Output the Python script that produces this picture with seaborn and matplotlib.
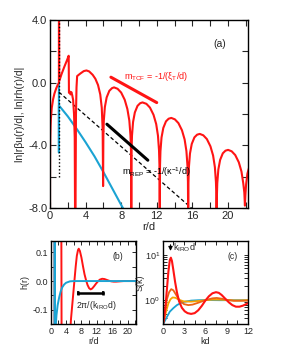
import matplotlib
matplotlib.use("Agg")
import matplotlib.pyplot as plt
import seaborn as sns
from matplotlib.ticker import MultipleLocator, FormatStrFormatter, LogLocator, NullFormatter

# ---- panel (a): ln|r h(r)/d| (strong coupling, red) ----
core_r = [0.0003, 0.001, 0.003, 0.01, 0.03, 0.06, 0.1, 0.2, 0.35, 0.5, 0.7, 0.85, 1.0]
core_y = [-8.1, -6.9, -5.8, -4.6, -3.5, -2.8, -2.3, -1.6, -1.05, -0.69, -0.36, -0.16, 0.0]
contact_r = [1.0, 1.02, 1.04, 1.3, 1.6, 1.9, 2.1, 2.13, 2.2, 2.3, 2.4, 2.5, 2.6, 2.7, 2.78, 2.82]
contact_y = [4.6, 4.6, 0.1, 0.55, 1.0, 1.42, 1.72, -0.65, -0.55, -0.75, -0.6, -0.8, -1.1, -2.0, -3.5, -9.0]
arch1_r = [2.86, 2.92, 2.98, 3.05, 3.4, 3.8, 4.1, 4.4, 4.8, 5.1, 5.4, 5.65, 5.82, 5.92, 5.97]
arch1_y = [-9.0, -2.0, -0.3, 0.42, 0.58, 0.74, 0.78, 0.72, 0.5, 0.25, -0.15, -0.75, -1.6, -3.0, -6.6]
arch2_r = [6.0, 6.05, 6.17, 6.37, 6.67, 6.97, 7.2, 7.6, 8.0, 8.4, 8.7, 8.92, 9.05, 9.11, 9.14]
arch2_y = [-3.4, -2.42, -1.55, -0.94, -0.52, -0.35, -0.30, -0.39, -0.63, -1.09, -1.68, -2.42, -3.37, -4.36, -9.0]
arch3_r = [9.17, 9.22, 9.34, 9.54, 9.84, 10.14, 10.4, 10.84, 11.24, 11.64, 11.94, 12.14, 12.26, 12.31, 12.34]
arch3_y = [-4.34, -3.38, -2.51, -1.90, -1.48, -1.31, -1.26, -1.35, -1.59, -2.05, -2.64, -3.38, -4.33, -5.32, -9.0]
arch4_r = [12.37, 12.42, 12.54, 12.74, 13.04, 13.34, 13.64, 14.04, 14.44, 14.84, 15.14, 15.34, 15.46, 15.51, 15.54]
arch4_y = [-5.33, -4.37, -3.50, -2.89, -2.47, -2.30, -2.25, -2.34, -2.58, -3.04, -3.63, -4.37, -5.32, -6.31, -9.0]
arch5_r = [15.57, 15.62, 15.74, 15.94, 16.24, 16.54, 16.84, 17.24, 17.64, 18.04, 18.34, 18.54, 18.66, 18.71, 18.73]
arch5_y = [-6.35, -5.39, -4.52, -3.91, -3.49, -3.32, -3.27, -3.36, -3.60, -4.06, -4.65, -5.39, -6.34, -7.33, -9.0]
arch6_r = [18.76, 18.81, 18.93, 19.13, 19.43, 19.73, 20.03, 20.43, 20.83, 21.23, 21.53, 21.73, 21.85, 21.9, 21.92]
arch6_y = [-7.37, -6.41, -5.54, -4.93, -4.51, -4.34, -4.29, -4.38, -4.62, -5.08, -5.67, -6.41, -7.0, -7.6, -7.85]
tail_r = [21.97, 22.05, 22.2, 22.4]
tail_y = [-7.2, -6.5, -5.8, -5.4]

# ln|r beta u(r)/d| (repulsive potential, cyan)
pot_r = [1.0, 1.0, 1.0, 2.0, 3.0, 4.0, 5.0, 6.0, 7.0, 8.0, 8.3]
pot_y = [-0.1, -4.45, -1.45, -2.15, -2.95, -3.8, -4.7, -5.7, -6.75, -7.8, -8.1]

# guide lines
rep_dash_r = [1.0, 16.0]
rep_dash_y = [-0.6, -8.05]
rep_slope_r = [6.4, 11.0]
rep_slope_y = [-2.65, -4.95]
tcf_slope_r = [6.85, 12.0]
tcf_slope_y = [0.35, -1.27]

# ---- panel (b): h(r) ----
hb_red_r = [0, 1.0, 1.0, 2.0, 2.75, 2.85, 3.5, 4.2, 4.7, 5.0, 5.3, 5.6, 5.9, 6.2, 6.5, 6.8, 7.1, 7.3,
            7.6, 8.0, 8.4, 8.8, 9.2, 9.6, 10.0, 10.4, 10.8, 11.3, 11.8, 12.3, 12.8, 13.4, 14.0, 14.6,
            15.2, 15.8, 16.4, 17.0, 18.0, 19.0, 20.0, 21.0, 22.2]
hb_red_y = [-1, -1, 3.0, 2.0, 0.3, -0.3, -0.5, -0.5, -0.3, -0.19, -0.13, -0.085, -0.04, 0.005, 0.05,
            0.088, 0.108, 0.113, 0.105, 0.082, 0.052, 0.024, 0.003, -0.014, -0.025, -0.029, -0.026,
            -0.018, -0.009, -0.001, 0.005, 0.008, 0.007, 0.004, 0.001, -0.001, -0.002, -0.002,
            -0.001, 0.0, 0.0, 0.0, 0.0]
hb_cyan_r = [0, 1.0, 1.0, 1.06, 1.12, 1.3, 1.5, 1.8, 2.2, 2.6, 3.0, 3.5, 4.0, 5.0, 6.0, 8.0, 12.0, 16.0, 22.2]
hb_cyan_y = [-1, -1, 0.4, 0.4, -0.4, -0.16, -0.12, -0.085, -0.057, -0.036, -0.022, -0.012, -0.006,
             -0.001, 0, 0, 0, 0, 0]
bar_r = [7.0, 13.6]
bar_y = -0.041

# ---- panel (c): S(k) ----
sk_red_k = [0, 0.2, 0.4, 0.6, 0.8, 1.0, 1.15, 1.3, 1.5, 1.75, 2.0, 2.3, 2.7, 3.1, 3.5, 4.0, 4.5, 5.0,
            5.5, 6.0, 6.5, 7.0, 7.5, 7.9, 8.3, 8.8, 9.3, 9.8, 10.3, 10.8, 11.3, 12.0]
sk_red_s = [0.28, 0.38, 0.75, 1.8, 4.2, 7.6, 8.6, 7.3, 4.6, 2.5, 1.5, 0.95, 0.68, 0.57, 0.52, 0.5,
            0.52, 0.6, 0.75, 0.98, 1.22, 1.42, 1.5, 1.45, 1.3, 1.08, 0.9, 0.78, 0.72, 0.72, 0.76, 0.86]
sk_orange_k = [0, 0.2, 0.4, 0.6, 0.9, 1.2, 1.5, 1.9, 2.4, 3.0, 3.6, 4.2, 5.0, 6.0, 7.0, 7.6, 8.3,
               9.0, 10.0, 11.0, 12.0]
sk_orange_s = [0.3, 0.42, 0.7, 1.05, 1.5, 1.75, 1.65, 1.3, 0.98, 0.82, 0.78, 0.8, 0.88, 1.0, 1.1,
               1.12, 1.08, 1.02, 0.97, 0.97, 0.98]
sk_yellow_k = [0, 0.2, 0.5, 0.8, 1.1, 1.4, 1.8, 2.3, 3.0, 4.0, 5.0, 6.0, 7.0, 8.0, 9.0, 10.0, 11.0, 12.0]
sk_yellow_s = [0.3, 0.38, 0.58, 0.85, 1.05, 1.15, 1.13, 1.02, 0.94, 0.93, 0.96, 1.0, 1.03, 1.03,
               1.01, 0.99, 0.99, 1.0]
sk_cyan_k = [0, 0.3, 0.6, 1.0, 1.5, 2.0, 2.5, 3.0, 4.0, 5.0, 6.0, 8.0, 10.0, 12.0]
sk_cyan_s = [0.28, 0.35, 0.43, 0.56, 0.67, 0.78, 0.86, 0.92, 0.98, 1.0, 1.01, 1.0, 1.0, 1.0]
k_iro = 1.1

RED = "#ff1414"
CYAN = "#1ba3d3"
ORANGE = "#ec6414"
YELLOW = "#f7a400"

sns.set_style("ticks")
plt.rcParams["font.family"] = ["Liberation Sans", "DejaVu Sans"]
plt.rcParams["mathtext.fontset"] = "custom"
plt.rcParams["mathtext.rm"] = "Liberation Sans"
plt.rcParams["mathtext.it"] = "Liberation Sans:italic"
plt.rcParams["axes.unicode_minus"] = False

fig = plt.figure(figsize=(3.0, 3.6), dpi=100)
ax = fig.add_axes([0.1667, 0.4222, 0.661, 0.5222])
axb = fig.add_axes([0.169, 0.100, 0.2843, 0.2306])
axc = fig.add_axes([0.5423, 0.100, 0.2843, 0.2306])


def line(a, x, y, color, lw, **kw):
    sns.lineplot(x=x, y=y, ax=a, color=color, linewidth=lw, estimator=None, sort=False, **kw)


# panel (a)
red_r = core_r + contact_r + arch1_r + arch2_r + arch3_r + arch4_r + arch5_r + arch6_r + tail_r
red_y = core_y + contact_y + arch1_y + arch2_y + arch3_y + arch4_y + arch5_y + arch6_y + tail_y
line(ax, pot_r, pot_y, CYAN, 1.5)
line(ax, rep_dash_r, rep_dash_y, "black", 0.9, linestyle=(0, (3, 2)))
line(ax, red_r, red_y, RED, 1.5)
ax.vlines(1.0, -6.0, 4.0, colors="black", linestyles=(0, (1, 1.5)), linewidth=1.0)
line(ax, rep_slope_r, rep_slope_y, "black", 2.2)
line(ax, tcf_slope_r, tcf_slope_y, RED, 2.2)

ax.text(8.3, 0.38, r"m$_{\mathrm{TCF}}$ = -1/(ξ$_{\mathrm{T}}$/d)", color=RED, fontsize=6.5, va="center")
ax.text(8.05, -5.72, r"m$_{\mathrm{REP}}$ = -1/(κ$^{\mathrm{-1}}$/d)", color="black", fontsize=6.5, va="center")
ax.text(19.1, 2.5, "(a)", fontsize=7.5, ha="center", va="center")

ax.set_xlim(0, 22.3)
ax.set_ylim(-8, 4)
ax.xaxis.set_major_locator(MultipleLocator(4))
ax.xaxis.set_minor_locator(MultipleLocator(2))
ax.yaxis.set_major_locator(MultipleLocator(4))
ax.yaxis.set_minor_locator(MultipleLocator(2))
ax.yaxis.set_major_formatter(FormatStrFormatter("%.1f"))
ax.set_xlabel("r/d", fontsize=8, labelpad=1)
ax.set_ylabel("ln|rβu(r)/d|, ln|rh(r)/d|", fontsize=7.5, labelpad=2)
ax.tick_params(which="both", direction="in", top=True, right=True, length=4, width=0.8, labelsize=8, pad=2)

# panel (b)
line(axb, hb_red_r, hb_red_y, RED, 1.4)
line(axb, hb_cyan_r, hb_cyan_y, CYAN, 1.4)
axb.errorbar(bar_r, [bar_y, bar_y], yerr=0.006, color="black", linewidth=1.8, capsize=0)
axb.vlines(bar_r, bar_y - 0.008, bar_y + 0.008, colors="black", linewidth=1.2)
axb.text(12.0, -0.084, r"2π/(k$_{\mathrm{IRO}}$d)", fontsize=6.2, ha="center", va="center")
axb.text(17.5, 0.086, "(b)", fontsize=6.2, ha="center", va="center")
axb.set_xlim(0, 22.2)
axb.set_ylim(-0.15, 0.14)
axb.xaxis.set_major_locator(MultipleLocator(4))
axb.xaxis.set_minor_locator(MultipleLocator(2))
axb.yaxis.set_major_locator(MultipleLocator(0.1))
axb.yaxis.set_minor_locator(MultipleLocator(0.05))
axb.yaxis.set_major_formatter(FormatStrFormatter("%.1f"))
axb.set_xlabel("r/d", fontsize=6.5, labelpad=1)
axb.set_ylabel("h(r)", fontsize=6.5, labelpad=2)
axb.tick_params(which="both", direction="in", top=True, right=True, length=3, width=0.7, labelsize=6.5, pad=2)

# panel (c)
line(axc, sk_cyan_k, sk_cyan_s, CYAN, 1.3)
line(axc, sk_yellow_k, sk_yellow_s, YELLOW, 1.3)
line(axc, sk_orange_k, sk_orange_s, ORANGE, 1.3)
line(axc, sk_red_k, sk_red_s, RED, 1.5)
axc.annotate("", xy=(k_iro, 10.5), xytext=(k_iro, 19),
             arrowprops=dict(arrowstyle="-|>", color="black", lw=0.8, mutation_scale=6))
axc.text(k_iro + 0.3, 14, r"k$_{\mathrm{IRO}}$d", fontsize=6.5, ha="left", va="center")
axc.text(9.9, 9.3, "(c)", fontsize=6.2, ha="center", va="center")
axc.set_yscale("log")
axc.set_xlim(0, 12)
axc.set_ylim(0.3, 20)
axc.xaxis.set_major_locator(MultipleLocator(3))
axc.xaxis.set_minor_locator(MultipleLocator(1.5))
axc.yaxis.set_major_locator(LogLocator(base=10, numticks=5))
axc.yaxis.set_minor_locator(LogLocator(base=10, subs=range(2, 10), numticks=20))
axc.yaxis.set_minor_formatter(NullFormatter())
axc.set_xlabel("kd", fontsize=6.5, labelpad=1)
axc.set_ylabel("S(k)", fontsize=6.5, labelpad=0)
axc.tick_params(which="both", direction="in", top=True, right=True, length=3, width=0.7, labelsize=6.5, pad=2)

for a in (ax, axb, axc):
    for s in a.spines.values():
        s.set_linewidth(1.0)
        s.set_color("black")

fig.savefig("out.png", dpi=100)
